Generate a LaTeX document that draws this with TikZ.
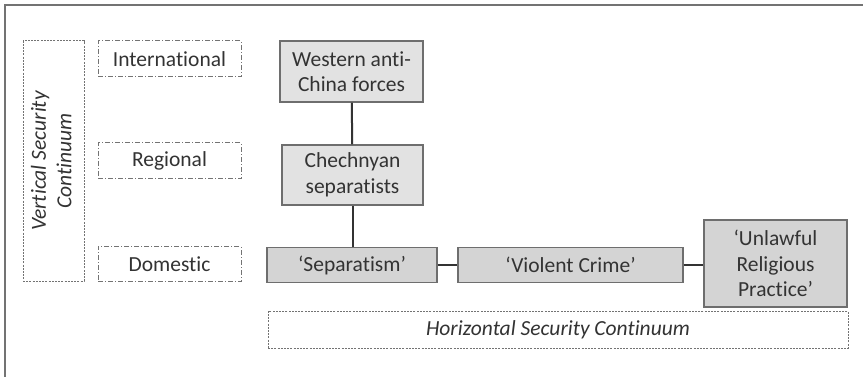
\documentclass[tikz,border=0pt]{standalone}
\usepackage{fontspec}
\setmainfont{Carlito}[Ligatures=NoCommon]
\usepackage{xcolor}
\usetikzlibrary{positioning}
\definecolor{boxfill}{RGB}{226,226,226}
\definecolor{domfill}{RGB}{212,212,212}
\definecolor{boxline}{RGB}{110,110,110}
\definecolor{dashline}{RGB}{115,115,115}
\newcommand{\boxfont}{\fontsize{21.5}{25.5}\selectfont}

\tikzset{
  level/.style={draw=dashline, line width=1pt, dash pattern=on 5pt off 2pt on 1pt off 2pt,
    minimum width=143pt, minimum height=36pt, inner sep=0pt, align=center},
  continuum/.style={draw=dashline, line width=1pt, dash pattern=on 2pt off 1.2pt,
    inner sep=0pt, align=center, font=\boxfont\itshape},
  actor/.style={draw=boxline, fill=boxfill, line width=1.1pt, inner sep=0pt, align=center},
  label/.style={draw=boxline, fill=domfill, line width=1.1pt, inner sep=0pt, align=center,
    minimum height=35pt},
  link/.style={line width=2pt, black!80}
}

\begin{document}
\begin{tikzpicture}[x=1pt, y=-1pt, font=\boxfont, text=black!80]
        \useasboundingbox (0,0) rectangle (863,377);
        \draw[dashline, line width=2pt] (5,377) -- (5,5) -- (863,5);
        % levels
        \node[continuum, minimum width=61pt, minimum height=240pt] (vert) at (53.5,161)
          {\rotatebox{90}{\begin{tabular}{@{}c@{}}Vertical Security\\Continuum\end{tabular}}};
        \node[level] (intl) at (169.5,59) {International};
        \node[level] (reg) at (169.5,161) {Regional};
        \node[level, minimum height=35pt] (dom) at (169.5,264) {Domestic};
        % actors
        \node[actor, minimum width=143pt, minimum height=61pt] (west) at (351.5,71.5)
          {Western anti-\\China forces};
        \node[actor, minimum width=141pt, minimum height=60pt] (chech) at (352.5,175)
          {Chechnyan\\separatists};
        \node[label, minimum width=170pt] (sep) at (352,265) {‘Separatism’};
        \node[label, minimum width=225pt] (crime) at (570.5,265) {‘Violent Crime’};
        \node[label, minimum width=143pt, minimum height=87pt] (unlaw) at (775.5,263.5)
          {‘Unlawful\\Religious\\Practice’};
        \node[continuum, minimum width=580pt, minimum height=37pt] (horiz) at (558,329.5)
          {Horizontal Security Continuum};
        \draw[link] (west) -- (chech);
        \draw[link] (chech) -- (chech |- sep.north);
        \draw[link] (sep) -- (crime);
        \draw[link] (crime) -- (crime -| unlaw.west);
      \end{tikzpicture}
\end{document}
